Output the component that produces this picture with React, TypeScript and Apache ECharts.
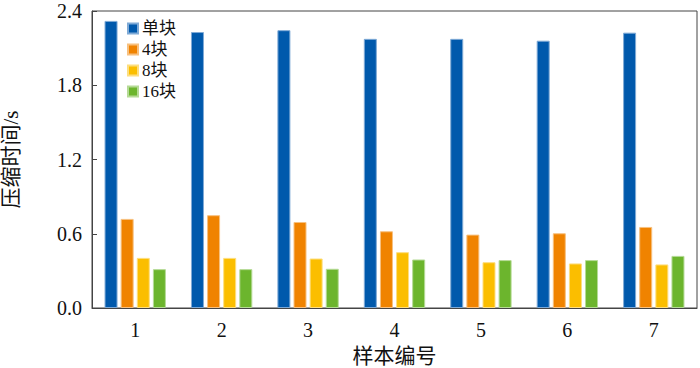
import React, { useEffect, useRef } from "react";
import * as echarts from "echarts";

const categories = ["1", "2", "3", "4", "5", "6", "7"];
const seriesNames = ["单块", "4块", "8块", "16块"];
const single = [2.32, 2.23, 2.245, 2.175, 2.175, 2.16, 2.225];
const block4 = [0.72, 0.75, 0.695, 0.62, 0.593, 0.604, 0.655];
const block8 = [0.405, 0.405, 0.4, 0.451, 0.37, 0.36, 0.352];
const block16 = [0.314, 0.314, 0.317, 0.392, 0.387, 0.387, 0.421];
const colors = ["#0059AC", "#F08300", "#FBBE00", "#6CB52D"];
const borders = ["#7FAAD6", "#F7C07F", "#FDDE7F", "#B5DA96"];

const FONT = '"Liberation Serif", "Noto Sans CJK SC", serif';

export default function App() {
  const ref = useRef<HTMLDivElement>(null);
  useEffect(() => {
    document.body.style.margin = "0";
    const chart = echarts.init(ref.current!, null, { renderer: "svg" });
    const data = [single, block4, block8, block16];
    chart.setOption({
      animation: false,
      backgroundColor: "#ffffff",
      textStyle: { fontFamily: FONT },
      grid: {
        left: 92,
        right: 3,
        top: 11,
        bottom: 60,
        containLabel: false,
        outerBoundsMode: "none",
        show: true,
        borderColor: "#444",
        borderWidth: 1,
      },
      legend: {
        orient: "vertical",
        left: 122,
        top: 15,
        itemWidth: 10,
        itemHeight: 10,
        itemGap: 4,
        icon: "rect",
        data: seriesNames,
        textStyle: { fontFamily: FONT, fontSize: 17, color: "#111", padding: [0, 0, 0, -1] },
      },
      xAxis: {
        type: "category",
        data: categories,
        name: "样本编号",
        nameLocation: "middle",
        nameGap: 37,
        nameTextStyle: { fontFamily: FONT, fontSize: 21, color: "#111" },
        axisLine: { lineStyle: { color: "#444" } },
        axisTick: { inside: true, length: 5, lineStyle: { color: "#444" } },
        axisLabel: { fontFamily: FONT, fontSize: 20, color: "#111", margin: 12 },
      },
      yAxis: {
        type: "value",
        min: 0,
        max: 2.4,
        interval: 0.6,
        name: "压缩时间/s",
        nameLocation: "middle",
        nameGap: 71,
        nameTextStyle: { fontFamily: FONT, fontSize: 21, color: "#111" },
        axisLine: { show: true, lineStyle: { color: "#444" } },
        axisTick: { show: true, inside: true, length: 5, lineStyle: { color: "#444" } },
        splitLine: { show: false },
        axisLabel: {
          fontFamily: FONT,
          fontSize: 20,
          lineHeight: 20,
          color: "#111",
          margin: 10,
          formatter: (v: number) => v.toFixed(1),
        },
      },
      series: seriesNames.map((name, i) => ({
        name,
        type: "bar",
        data: data[i],
        barWidth: 13,
        barGap: "24%",
        itemStyle: { color: colors[i], borderColor: borders[i], borderWidth: 1 },
      })),
    });
    return () => chart.dispose();
  }, []);
  return <div ref={ref} style={{ width: 700, height: 368 }} />;
}
